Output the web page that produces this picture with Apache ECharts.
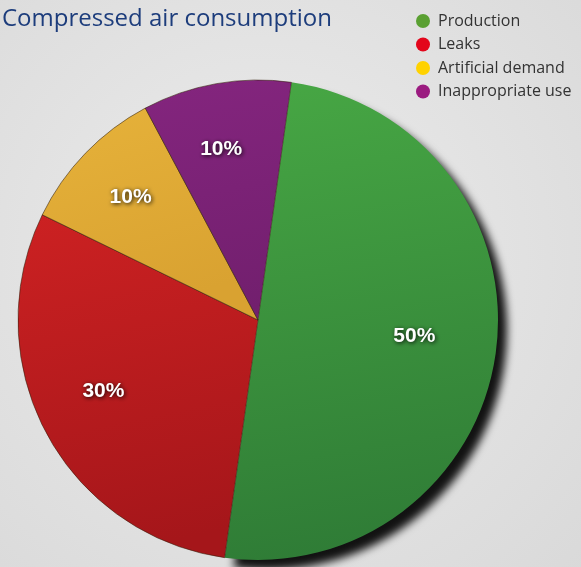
<!DOCTYPE html>
<html><head><meta charset="utf-8">
<script src="https://cdn.jsdelivr.net/npm/echarts@6/dist/echarts.min.js"></script>
<style>html,body{margin:0;padding:0;}#c{width:581px;height:567px;}</style>
</head><body><div id="c"></div>
<script>
const categories = ['Production', 'Leaks', 'Artificial demand', 'Inappropriate use'];
const values = [50, 30, 10, 10];
const sliceTop = ['#47a744', '#cc2122', '#e6b23a', '#84257e'];
const sliceBottom = ['#2f7c36', '#a5161a', '#d9a231', '#721f6e'];
const legendColors = ['#5aa032', '#e3061b', '#ffd200', '#9b1b80'];

const chart = echarts.init(document.getElementById('c'));
const pieData = categories.map((n, i) => ({
  name: n, value: values[i],
  itemStyle: Object.assign({
    color: { type: 'linear', x: 0, y: 0, x2: 0.3, y2: 1,
      colorStops: [{ offset: 0, color: sliceTop[i] }, { offset: 1, color: sliceBottom[i] }] }
  }, i === 0 ? {
    shadowBlur: 8, shadowOffsetX: 9, shadowOffsetY: 10, shadowColor: 'rgba(0,0,0,0.92)'
  } : {
    borderColor: 'rgba(50,30,10,0.55)', borderWidth: 1
  })
}));
chart.setOption({
  backgroundColor: {
    type: 'radial', x: 0.45, y: 0.45, r: 0.8,
    colorStops: [{ offset: 0, color: '#ececec' }, { offset: 1, color: '#d9d9d9' }]
  },
  title: {
    text: 'Compressed air consumption', left: 2, top: 7, padding: 0,
    textStyle: { fontFamily: 'Open Sans', fontSize: 24, fontWeight: 'normal', color: '#1d3d7c' }
  },
  legend: {
    orient: 'vertical', left: 411, top: 8, itemGap: 7.5,
    icon: 'circle', itemWidth: 14, itemHeight: 14,
    itemStyle: { borderWidth: 0 },
    textStyle: { fontFamily: 'Open Sans', fontSize: 16, color: '#333', padding: [0, 0, 0, 3] },
    data: categories.map((n, i) => ({ name: n, itemStyle: { color: legendColors[i], borderWidth: 0 } }))
  },
  series: [{
    type: 'pie', center: [258, 320], radius: 240, startAngle: 82,
    clockwise: true, silent: true, animation: false,
    data: pieData,
    label: { show: false }, labelLine: { show: false }
  }, {
    type: 'pie', center: [250, 313], radius: [113, 213], startAngle: 82,
    clockwise: true, silent: true, animation: false,
    data: categories.map((n, i) => ({ name: n, value: values[i] })),
    itemStyle: { color: 'rgba(0,0,0,0)', borderWidth: 0 },
    label: {
      show: true, position: 'inside', formatter: '{c}%',
      fontFamily: 'Liberation Sans', fontWeight: 'bold', fontSize: 21, color: '#fff',
      textShadowColor: 'rgba(0,0,0,0.9)', textShadowBlur: 4, textShadowOffsetX: 1, textShadowOffsetY: 1
    },
    labelLine: { show: false }
  }]
});
</script></body></html>
